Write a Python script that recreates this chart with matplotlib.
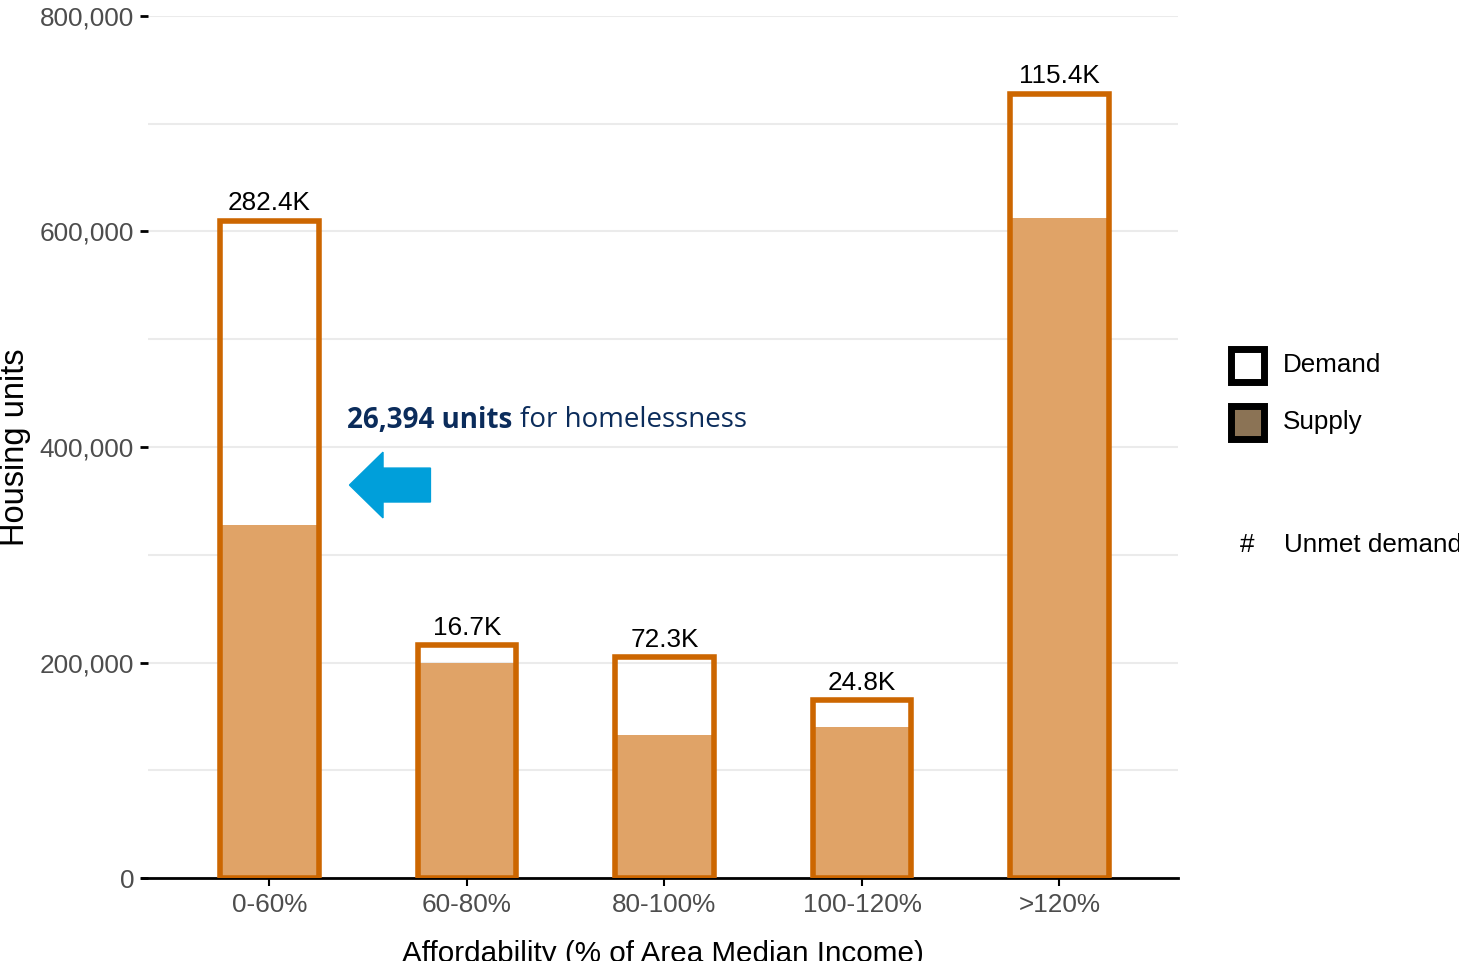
import numpy as np
import matplotlib.pyplot as plt
from matplotlib.patches import FancyArrow, Rectangle
from matplotlib.ticker import FuncFormatter, MultipleLocator

# affordability bands and housing units
categories = ['0-60%', '60-80%', '80-100%', '100-120%', '>120%']
supply = [327600, 199500, 132700, 140100, 612500]
demand = [610000, 216200, 205000, 164900, 727900]
unmet_labels = ['282.4K', '16.7K', '72.3K', '24.8K', '115.4K']

outline = '#CC6600'
fill = '#E0A367'

fig = plt.figure(figsize=(14.59, 9.61), dpi=100)
ax = fig.add_axes([148/1459, 1 - 878/961, 1030/1459, 862/961])

x = np.arange(len(categories))
ax.bar(x, supply, width=0.5, color=fill, edgecolor='none', zorder=2)
ax.bar(x, demand, width=0.5, facecolor='none', edgecolor=outline, linewidth=4, zorder=3)

for xi, d, lab in zip(x, demand, unmet_labels):
    ax.text(xi, d + 5000, lab, ha='center', va='bottom', fontsize=18.8,
            family='Liberation Sans', color='black')

ax.set_xlim(-0.615, 4.6)
ax.set_ylim(0, 800000)
ax.yaxis.set_major_locator(MultipleLocator(200000))
ax.yaxis.set_minor_locator(MultipleLocator(100000))
ax.yaxis.set_major_formatter(FuncFormatter(lambda v, p: f'{int(v):,}'))
ax.grid(axis='y', which='both', color='#EBEBEB', linewidth=1.5, zorder=0)
ax.set_axisbelow(True)

for s in ['top', 'right', 'left']:
    ax.spines[s].set_visible(False)
ax.spines['bottom'].set_linewidth(2)
ax.spines['bottom'].set_bounds(-0.645, 4.6)

ax.set_xticks(x)
ax.set_xticklabels(categories)
ax.tick_params(axis='y', which='major', length=6, width=2, color='black',
               labelsize=18.8, labelcolor='#4D4D4D', pad=4)
ax.tick_params(axis='y', which='minor', length=0)
ax.tick_params(axis='x', length=6, width=1.5, color='black',
               labelsize=18.8, labelcolor='#4D4D4D', pad=5)
for t in ax.get_xticklabels() + ax.get_yticklabels():
    t.set_family('Liberation Sans')

ax.set_ylabel('Housing units', fontsize=23.5, family='Liberation Sans', labelpad=6)
ax.set_xlabel('Affordability (% of Area Median Income)', fontsize=21.3,
              family='Liberation Sans', labelpad=16)

# annotation
fig.text(347/1459, 1 - 420/961, '26,394 units', fontsize=20, fontweight='bold',
         family='Open Sans', color='#0B2C5B', va='center')
fig.text(520/1459, 1 - 420/961, 'for homelessness', fontsize=20,
         family='Open Sans', color='#0B2C5B', va='center')
ax.add_patch(FancyArrow(0.815, 364700, -0.41, 0, width=31500, head_width=61000,
                        head_length=0.17, length_includes_head=True,
                        color='#009FDA', zorder=4, clip_on=False))

# legend drawn by hand
fig.patches.append(Rectangle((1231/1459, 1 - 382/961), 33/1459, 33/961,
                             transform=fig.transFigure, facecolor='white',
                             edgecolor='black', linewidth=5))
fig.patches.append(Rectangle((1231/1459, 1 - 439/961), 33/1459, 33/961,
                             transform=fig.transFigure, facecolor='#8B7355',
                             edgecolor='black', linewidth=5))
fig.text(1283/1459, 1 - 365/961, 'Demand', fontsize=18.7, family='Liberation Sans', va='center')
fig.text(1283/1459, 1 - 422/961, 'Supply', fontsize=18.7, family='Liberation Sans', va='center')
fig.text(1247/1459, 1 - 545/961, '#', fontsize=18.7, family='Liberation Sans', va='center', ha='center')
fig.text(1284/1459, 1 - 545/961, 'Unmet demand', fontsize=18.7, family='Liberation Sans', va='center')

fig.savefig('out.png', dpi=100)
